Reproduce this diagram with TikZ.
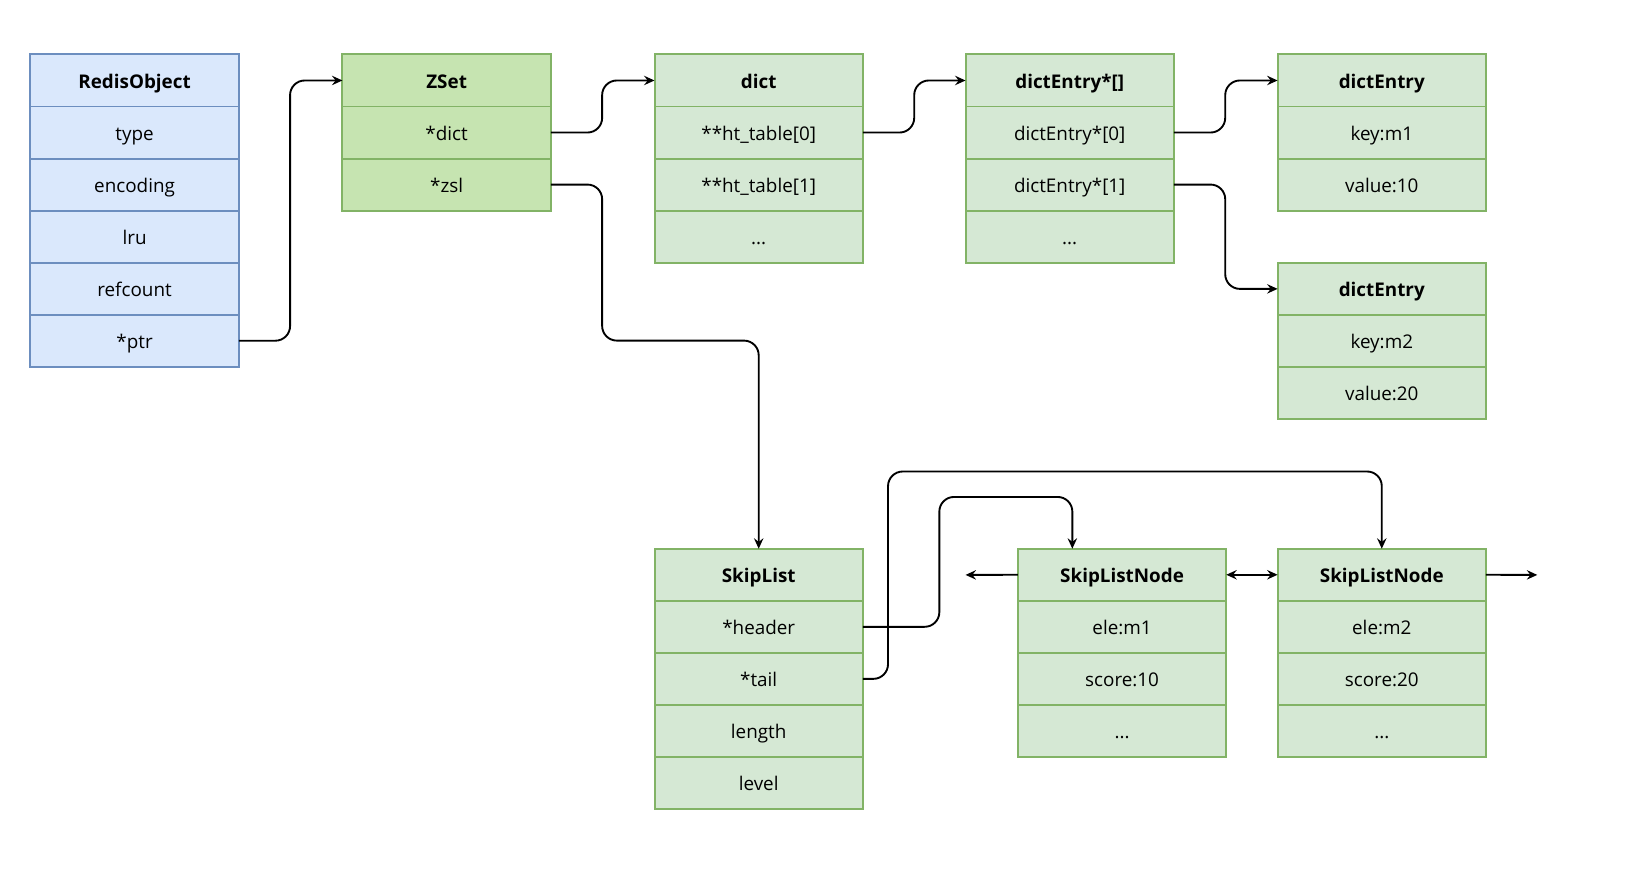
\documentclass[tikz,border=0pt]{standalone}
\usepackage{fontspec}
\setmainfont{Open Sans}
\usetikzlibrary{arrows.meta,positioning}
\definecolor{blueF}{HTML}{DAE8FC}
\definecolor{blueD}{HTML}{6C8EBF}
\definecolor{greenF}{HTML}{D5E8D4}
\definecolor{greenZ}{HTML}{C6E4B1}
\definecolor{greenD}{HTML}{82B366}
\tikzset{
  cell/.style={draw, line width=1.9pt, minimum width=199pt, minimum height=49.7pt,
    inner sep=0pt, outer sep=0pt, text height=17pt, text depth=2pt,
    font=\fontsize{18}{20}\selectfont, text=black},
  bcell/.style={cell, fill=blueF, draw=blueD},
  gcell/.style={cell, fill=greenF, draw=greenD},
  zcell/.style={cell, fill=greenZ, draw=greenD},
  hdr/.style={font=\fontsize{18}{20}\selectfont\bfseries},
  conn/.style={draw=black, line width=1.8pt, rounded corners=14pt,
    -{Stealth[length=10pt,width=9pt,inset=3.5pt]}},
  dconn/.style={draw=black, line width=1.8pt,
    {Stealth[length=10pt,width=9pt,inset=3.5pt]}-{Stealth[length=10pt,width=9pt,inset=3.5pt]}},
}
\begin{document}
\begin{tikzpicture}[x=1pt,y=-1pt]
\useasboundingbox (0,0) rectangle (1568,833);
% RedisObject
\node[bcell,hdr,anchor=north west] (ro0) at (29,52) {RedisObject};
\node[bcell,below=0pt of ro0] (ro1) {type};
\node[bcell,below=0pt of ro1] (ro2) {encoding};
\node[bcell,below=0pt of ro2] (ro3) {lru};
\node[bcell,below=0pt of ro3] (ro4) {refcount};
\node[bcell,below=0pt of ro4] (ro5) {*ptr};
% ZSet
\node[zcell,hdr,anchor=north west] (zs0) at (327,52) {ZSet};
\node[zcell,below=0pt of zs0] (zs1) {*dict};
\node[zcell,below=0pt of zs1] (zs2) {*zsl};
% dict
\node[gcell,hdr,anchor=north west] (dc0) at (625,52) {dict};
\node[gcell,below=0pt of dc0] (dc1) {**ht\_table[0]};
\node[gcell,below=0pt of dc1] (dc2) {**ht\_table[1]};
\node[gcell,below=0pt of dc2] (dc3) {...};
% dictEntry*[]
\node[gcell,hdr,anchor=north west] (da0) at (922,52) {dictEntry*[]};
\node[gcell,below=0pt of da0] (da1) {dictEntry*[0]};
\node[gcell,below=0pt of da1] (da2) {dictEntry*[1]};
\node[gcell,below=0pt of da2] (da3) {...};
% dictEntry 1
\node[gcell,hdr,anchor=north west] (de0) at (1220,52) {dictEntry};
\node[gcell,below=0pt of de0] (de1) {key:m1};
\node[gcell,below=0pt of de1] (de2) {value:10};
% dictEntry 2
\node[gcell,hdr,anchor=north west] (df0) at (1220,251) {dictEntry};
\node[gcell,below=0pt of df0] (df1) {key:m2};
\node[gcell,below=0pt of df1] (df2) {value:20};
% SkipList
\node[gcell,hdr,anchor=north west] (sl0) at (625,524) {SkipList};
\node[gcell,below=0pt of sl0] (sl1) {*header};
\node[gcell,below=0pt of sl1] (sl2) {*tail};
\node[gcell,below=0pt of sl2] (sl3) {length};
\node[gcell,below=0pt of sl3] (sl4) {level};
% SkipListNode 1
\node[gcell,hdr,anchor=north west] (sa0) at (972,524) {SkipListNode};
\node[gcell,below=0pt of sa0] (sa1) {ele:m1};
\node[gcell,below=0pt of sa1] (sa2) {score:10};
\node[gcell,below=0pt of sa2] (sa3) {...};
% SkipListNode 2
\node[gcell,hdr,anchor=north west] (sb0) at (1220,524) {SkipListNode};
\node[gcell,below=0pt of sb0] (sb1) {ele:m2};
\node[gcell,below=0pt of sb1] (sb2) {score:20};
\node[gcell,below=0pt of sb2] (sb3) {...};
% free ends
\coordinate (lftEnd) at (922,549);
\coordinate (rgtEnd) at (1468,549);
\coordinate (hdrIn) at ([xshift=52pt]sa0.north west);
% connectors
\draw[conn] (ro5.east) -- ++(49,0) |- (zs0.west);
\draw[conn] (zs1.east) -- ++(49,0) |- (dc0.west);
\draw[conn] (dc1.east) -- ++(49,0) |- (da0.west);
\draw[conn] (da1.east) -- ++(49,0) |- (de0.west);
\draw[conn] (da2.east) -- ++(49,0) |- (df0.west);
\draw[conn] (zs2.east) -- ++(49,0) -- ++(0,149) -| (sl0.north);
\draw[conn] (sl1.east) -- ++(73,0) -- ++(0,-124) -| (hdrIn);
\draw[conn] (sl2.east) -- ++(24,0) -- ++(0,-198) -| (sb0.north);
\draw[conn] (sa0.west) -- (lftEnd);
\draw[conn] (sb0.east) -- (rgtEnd);
\draw[dconn] (sa0.east) -- (sb0.west);
\end{tikzpicture}
\end{document}
